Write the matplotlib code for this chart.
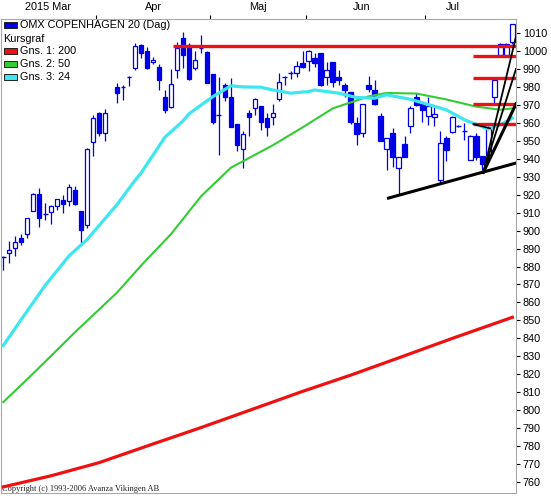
import numpy as np
import matplotlib
matplotlib.use("Agg")
import matplotlib.pyplot as plt
from matplotlib.patches import Rectangle

plt.rcParams['font.family'] = ['Liberation Sans', 'DejaVu Sans']

# daily candles, one per trading day (index 18 is an empty slot in the chart)
opens = [885.5, 887.6, 890.4, 895.6, 898.3, 910.7, 920.4, 909.4, 910.4, 913.9,
         917.2, 916.3, 922.8, 911.1, 903.0, 949.1, 965.4, 954.3, np.nan, 980.2,
         979.8, 985.7, 990.7, 1003.3, 1000.0, 993.7, 991.3, 974.6, 968.7, 989.4,
         1007.0, 1003.3, 990.7, 1001.9, 999.3, 987.0, 964.4, 981.1, 974.6, 959.2,
         945.5, 965.7, 968.2, 969.4, 962.6, 963.2, 973.2, 985.3, 987.9, 987.6,
         993.2, 994.6, 996.1, 999.1, 985.7, 993.9, 985.4, 981.1, 977.2, 959.8,
         954.6, 981.1, 978.3, 963.9, 945.2, 954.6, 934.8, 948.1, 958.3, 974.6,
         970.6, 963.9, 963.2, 928.3, 951.3, 954.8, 958.3, 955.2, 939.4, 952.4,
         941.3, 942.2, 974.3, 997.8, 997.8, 1005.2]
highs = [886.0, 894.1, 896.9, 898.3, 907.0, 920.9, 923.7, 915.4, 914.4, 917.6,
         920.0, 926.1, 924.6, 911.1, 945.9, 964.4, 966.3, 967.6, np.nan, 982.0,
         981.1, 985.8, 1004.3, 1003.9, 1002.4, 996.8, 992.6, 978.3, 990.0, 1005.2,
         1010.4, 1004.3, 1000.0, 1008.9, 1000.0, 987.0, 985.7, 982.0, 984.8, 959.2,
         955.2, 967.2, 973.7, 969.4, 965.7, 970.6, 987.9, 986.1, 989.1, 994.6,
         1000.2, 1000.6, 998.7, 999.1, 993.9, 993.9, 989.4, 982.0, 977.2, 963.5,
         970.6, 986.1, 983.9, 965.4, 951.5, 957.0, 940.9, 952.8, 969.4, 976.5,
         972.4, 974.3, 969.1, 955.7, 952.8, 963.9, 958.6, 959.8, 953.3, 954.3,
         941.3, 958.3, 985.4, 1004.3, 1004.3, 1015.0]
lows = [878.0, 882.0, 885.7, 892.2, 896.0, 910.7, 902.0, 906.1, 903.9, 911.3,
        909.8, 913.5, 914.4, 893.1, 901.5, 941.3, 952.5, 949.6, np.nan, 970.9,
        972.8, 980.7, 989.4, 995.9, 990.0, 992.6, 978.3, 965.4, 968.2, 985.2,
        990.4, 983.9, 989.4, 998.7, 982.0, 959.2, 942.2, 971.9, 957.9, 944.4,
        934.8, 952.8, 964.4, 956.1, 952.8, 958.9, 971.9, 981.1, 984.3, 985.7,
        990.4, 989.1, 991.0, 980.6, 981.1, 980.2, 981.1, 974.6, 959.5, 947.4,
        952.0, 977.4, 969.8, 949.6, 933.9, 935.4, 920.6, 940.9, 954.6, 969.4,
        960.7, 958.9, 958.3, 926.1, 938.5, 954.3, 957.6, 950.6, 939.4, 939.4,
        933.9, 940.0, 971.0, 997.0, 997.0, 1004.0]
closes = [885.7, 889.1, 893.5, 893.5, 907.0, 920.4, 907.0, 909.6, 913.5, 917.6,
          915.0, 924.1, 914.8, 900.2, 945.4, 962.6, 954.3, 965.4, np.nan, 976.5,
          979.9, 985.9, 1003.0, 998.7, 990.4, 995.0, 983.9, 967.2, 981.5, 1001.5,
          997.8, 984.4, 995.0, 1002.1, 982.0, 960.7, 964.6, 974.6, 957.9, 947.4,
          953.8, 963.5, 973.2, 960.7, 957.4, 965.4, 982.6, 985.5, 988.1, 991.7,
          991.0, 1000.2, 993.5, 981.1, 989.4, 983.0, 983.9, 978.0, 960.2, 953.7,
          970.6, 978.7, 970.6, 949.6, 951.3, 940.9, 940.9, 940.9, 968.1, 970.0,
          966.9, 969.1, 965.0, 948.7, 944.6, 963.2, 958.5, 955.4, 952.4, 941.0,
          937.2, 957.6, 983.9, 1003.9, 1003.9, 1015.0]

# moving averages at some candle indices
ma200_idx = [0, 8, 16, 25, 33, 41, 50, 58, 66, 75, 85]
ma200_val = [757.3, 763.5, 770.8, 781.2, 790.3, 799.8, 810.5, 819.5, 829.1, 840.0, 851.7]
ma50_idx = [0, 5, 12, 19, 23, 28, 33, 38, 45, 50, 55, 61, 64, 69, 74, 79, 83, 85]
ma50_val = [804.5, 820.5, 843.5, 865.5, 880.5, 898.0, 919.0, 935.0, 947.5, 957.5, 968.0,
            974.7, 976.6, 976.3, 973.0, 969.0, 967.3, 968.0]
ma24_idx = [0, 3, 7, 11, 14, 19, 22, 23, 27, 30, 31, 35, 38, 40, 43, 45, 48, 51, 52,
            56, 59, 62, 64, 68, 74, 77, 81, 83, 85]
ma24_val = [836.0, 850.5, 869.5, 886.0, 895.0, 914.5, 928.0, 932.0, 952.0, 961.0, 965.0,
            974.6, 980.6, 980.0, 979.8, 978.3, 976.5, 977.4, 978.3, 976.5, 974.1, 973.7,
            975.6, 973.1, 967.2, 961.7, 956.5, 958.9, 962.6]

# drawn levels and trend lines
levels = [1002.6, 997.2, 984.8, 970.6, 959.3]
support = [918.1, 937.6]
fan_base = 932.4
fan_ends = [1008.0, 990.0, 970.5]

months = ['2015 Mar', 'Apr', 'Maj', 'Jun', 'Jul']
month_days = [16, 19, 16, 20, 15]

blue = '#0000e6'
red = '#ee1111'
green = '#33cc33'
cyan = '#3ee6f0'

W, H = 551, 496
fig = plt.figure(figsize=(W / 100, H / 100), dpi=100)
ax = fig.add_axes([1 / W, 1 - 493 / H, 515 / W, 474 / H])

o = np.array(opens)
h = np.array(highs)
l = np.array(lows)
c = np.array(closes)
x = np.arange(len(o))
ok = ~np.isnan(o)

# candles
ax.vlines(x[ok], l[ok], h[ok], color=blue, lw=0.9, zorder=2)
body = np.abs(c - o)
up = ok & (c >= o) & (body >= 0.6)
dn = ok & (c < o) & (body >= 0.6)
doji = ok & (body < 0.6)
ax.bar(x[up], body[up], bottom=o[up], width=0.74, facecolor='white',
       edgecolor=blue, linewidth=0.9, zorder=2.1)
ax.bar(x[dn], body[dn], bottom=c[dn], width=0.74, facecolor=blue,
       edgecolor=blue, linewidth=0.9, zorder=2.1)
ax.hlines(o[doji], x[doji] - 0.4, x[doji] + 0.4, color=blue, lw=1.0, zorder=2.1)

# moving averages
ax.plot(ma200_idx, ma200_val, color=red, lw=2.3, zorder=3, solid_joinstyle='round')
ax.plot(ma50_idx, ma50_val, color=green, lw=1.5, zorder=3, solid_joinstyle='round')
ax.plot(ma24_idx, ma24_val, color=cyan, lw=2.3, zorder=3, solid_joinstyle='round')

xmax = 85.62
# horizontal levels
ax.hlines(levels[0], 28.4, xmax, color=red, lw=2.4, zorder=4)
ax.hlines(levels[1:], 78.4, xmax, color=red, lw=2.4, zorder=4)
ax.plot([78.5, 81.3], [959.3, 956.9], color='black', lw=1.2, zorder=4.5)

# support line and fan
ax.plot([64.33, xmax], support, color='black', lw=2.2, zorder=5)
for k, end in enumerate(fan_ends):
    ax.plot([80.17, xmax], [fan_base, end], color='black',
            lw=2.2 if k == 2 else 1.3, zorder=5)

ax.set_xlim(-0.383, xmax)
ax.set_ylim(753.9, 1017.8)

# axes styling
for s in ax.spines.values():
    s.set_color('#a8a8a8')
    s.set_linewidth(0.8)

ax.yaxis.tick_right()
ax.set_yticks(np.arange(760, 1011, 10))
ax.tick_params(axis='y', direction='out', length=3, width=0.8, pad=2,
               labelsize=7.8, colors='black')

bounds = np.cumsum(month_days)[:-1] - 0.5
ax.xaxis.tick_top()
ax.set_xticks(bounds)
ax.set_xticklabels([])
ax.set_xticks([7.5, 25.0, 42.5, 59.8, 75.0], minor=True)
ax.set_xticklabels(months, minor=True)
ax.tick_params(axis='x', which='major', direction='out', length=3, width=0.8, colors='black')
ax.tick_params(axis='x', which='minor', length=0, pad=5, labelsize=7.8)

# legend block, top left
def fx(px):
    return px / W

def fy(py):
    return 1 - py / H

legend_rows = [('OMX COPENHAGEN 20 (Dag)', blue, 25),
               ('Kursgraf', None, 38.5),
               ('Gns. 1: 200', red, 51),
               ('Gns. 2: 50', green, 64),
               ('Gns. 3: 24', cyan, 77)]
for label, col, py in legend_rows:
    if col is not None:
        fig.add_artist(Rectangle((fx(4), fy(py + 3.3)), 13 / W, 6.6 / H,
                                 facecolor=col, edgecolor='#202020', lw=0.7,
                                 transform=fig.transFigure, zorder=10))
        tx = 20
    else:
        tx = 3
    fig.text(fx(tx), fy(py), label, fontsize=7.8, va='center', ha='left', zorder=11)

ax.text(fx(2), fy(489), 'Copyright (c) 1993-2006 Avanza Vikingen AB',
        transform=fig.transFigure, fontsize=6, family='Liberation Serif',
        color='#222222', va='center', ha='left', zorder=1)

fig.savefig('out.png', dpi=100)
